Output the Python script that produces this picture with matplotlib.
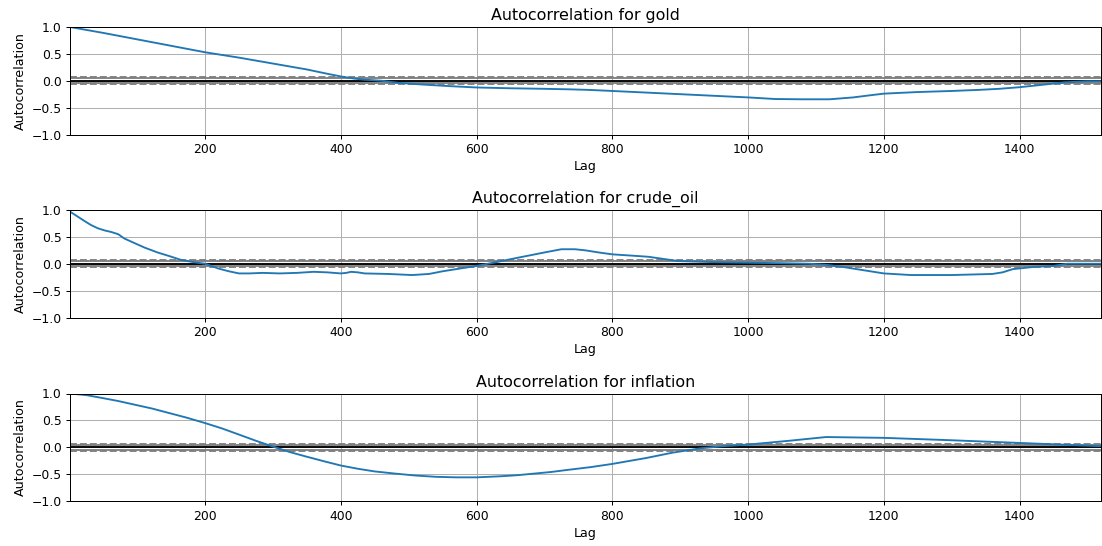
import numpy as np
import matplotlib
matplotlib.use("Agg")
import matplotlib.pyplot as plt

n_obs = 1520

gold_lags = [1, 50, 100, 150, 200, 250, 300, 350, 380, 400, 420, 435, 460, 485, 520, 560, 600, 650, 700, 738, 765, 800, 850, 900, 950, 1000, 1040, 1080, 1120, 1155, 1180, 1200, 1250, 1300, 1340, 1370, 1400, 1430, 1466, 1500, 1520]
gold_vals = [1.0, 0.89, 0.77, 0.65, 0.53, 0.43, 0.32, 0.21, 0.13, 0.08, 0.04, 0.02, 0.0, -0.04, -0.07, -0.10, -0.125, -0.14, -0.15, -0.16, -0.17, -0.19, -0.22, -0.25, -0.28, -0.31, -0.34, -0.345, -0.345, -0.31, -0.27, -0.24, -0.21, -0.19, -0.17, -0.15, -0.12, -0.08, -0.03, -0.01, -0.01]

crude_lags = [1, 12, 23, 32, 42, 52, 62, 72, 81, 95, 111, 130, 148, 165, 183, 200, 220, 235, 250, 265, 285, 310, 335, 360, 380, 400, 408, 415, 425, 435, 470, 505, 530, 550, 575, 600, 625, 660, 700, 725, 745, 760, 780, 800, 830, 853, 875, 897, 950, 1000, 1050, 1090, 1115, 1140, 1170, 1200, 1240, 1300, 1360, 1375, 1390, 1420, 1450, 1470, 1500, 1520]
crude_vals = [0.97, 0.88, 0.79, 0.72, 0.66, 0.62, 0.59, 0.55, 0.47, 0.39, 0.30, 0.21, 0.14, 0.07, 0.03, 0.0, -0.09, -0.14, -0.18, -0.18, -0.17, -0.18, -0.17, -0.15, -0.16, -0.18, -0.17, -0.15, -0.16, -0.18, -0.19, -0.21, -0.19, -0.14, -0.09, -0.04, 0.02, 0.11, 0.21, 0.27, 0.27, 0.25, 0.21, 0.175, 0.15, 0.13, 0.09, 0.05, 0.03, 0.02, 0.01, 0.0, -0.02, -0.06, -0.12, -0.18, -0.21, -0.21, -0.19, -0.16, -0.10, -0.06, -0.04, 0.0, 0.0, 0.0]

infl_lags = [1, 25, 47, 72, 97, 122, 146, 173, 200, 225, 249, 275, 303, 325, 348, 375, 400, 425, 450, 480, 509, 540, 570, 600, 635, 660, 685, 710, 735, 768, 800, 850, 889, 930, 963, 1000, 1060, 1115, 1200, 1300, 1400, 1460, 1520]
infl_vals = [1.0, 0.97, 0.92, 0.86, 0.79, 0.72, 0.64, 0.55, 0.45, 0.35, 0.24, 0.12, 0.0, -0.09, -0.17, -0.26, -0.34, -0.40, -0.45, -0.49, -0.525, -0.55, -0.56, -0.56, -0.54, -0.52, -0.49, -0.46, -0.42, -0.37, -0.31, -0.2, -0.1, -0.02, 0.02, 0.05, 0.12, 0.19, 0.175, 0.13, 0.08, 0.05, 0.02]

series = [("gold", gold_lags, gold_vals),
          ("crude_oil", crude_lags, crude_vals),
          ("inflation", infl_lags, infl_vals)]

fig = plt.figure(figsize=(11.02, 5.46), dpi=100)
W, H = 1102.0, 546.0
left_px, right_px = 70, 1101
tops = [27, 210, 393.5]
axh = 107.5

z95 = 1.959963984540054
z99 = 2.5758293035489004
band95 = z95 / np.sqrt(n_obs)
band99 = z99 / np.sqrt(n_obs)

for (name, lags, vals), top in zip(series, tops):
    ax = fig.add_axes([left_px / W, 1 - (top + axh) / H, (right_px - left_px) / W, axh / H])
    ax.axhline(y=band99, linestyle="--", color="grey", lw=1.35)
    ax.axhline(y=band95, color="grey", lw=1.35)
    ax.axhline(y=0.0, color="black", lw=1.35)
    ax.axhline(y=-band95, color="grey", lw=1.35)
    ax.axhline(y=-band99, linestyle="--", color="grey", lw=1.35)
    ax.plot(lags, vals, color="#1f77b4", lw=1.35)
    ax.set_xlim(1, n_obs)
    ax.set_ylim(-1.0, 1.0)
    ax.set_xticks([200, 400, 600, 800, 1000, 1200, 1400])
    ax.set_yticks([-1.0, -0.5, 0.0, 0.5, 1.0])
    ax.set_yticklabels(["\u22121.0", "\u22120.5", "0.0", "0.5", "1.0"])
    ax.grid(True, color="#b0b0b0", lw=0.72)
    ax.tick_params(labelsize=8.9, width=0.72, length=3.2, pad=3)
    for s in ax.spines.values():
        s.set_linewidth(0.72)
    ax.set_xlabel("Lag", fontsize=9.1, labelpad=3)
    ax.set_ylabel("Autocorrelation", fontsize=9.1, labelpad=3)
    ax.set_title(f"Autocorrelation for {name}", fontsize=11.4, pad=5)

fig.savefig("out.png", dpi=100)
